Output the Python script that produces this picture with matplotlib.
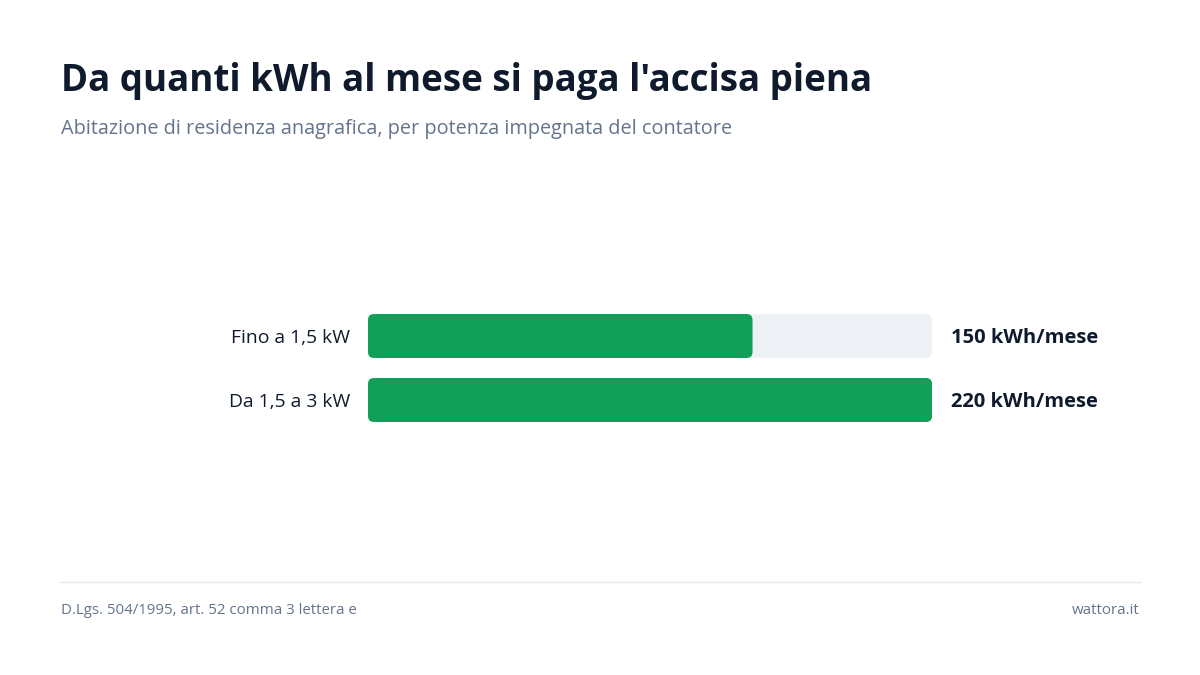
import matplotlib.pyplot as plt
from matplotlib.patches import FancyBboxPatch

# dati
categorie = ['Fino a 1,5 kW', 'Da 1,5 a 3 kW']
soglie = [150, 220]
etichette = ['150 kWh/mese', '220 kWh/mese']
massimo = 220

titolo = "Da quanti kWh al mese si paga l'accisa piena"
sottotitolo = 'Abitazione di residenza anagrafica, per potenza impegnata del contatore'
fonte = 'D.Lgs. 504/1995, art. 52 comma 3 lettera e'
sito = 'wattora.it'

VERDE = '#129f5a'
TRACCIA = '#edf0f5'
SCURO = '#0f1b2d'
GRIGIO = '#64748b'

plt.rcParams['font.family'] = ['Open Sans', 'DejaVu Sans']

W, H = 1200, 675
fig = plt.figure(figsize=(12, 6.75), dpi=100)
fig.patch.set_facecolor('white')

# titolo e sottotitolo
fig.text(61 / W, 1 - 81 / H, titolo, fontsize=26.5, fontweight='bold', color=SCURO, va='center', ha='left')
fig.text(61 / W, 1 - 129 / H, sottotitolo, fontsize=14.3, color=GRIGIO, va='center', ha='left')

# area barre
ax = fig.add_axes([368 / W, 239 / H, 564 / W, 136 / H])
ax.set_xlim(0, massimo)
ax.set_ylim(0.5 + 1.0625, 0.5 - 1.0625)
ax.axis('off')

px_x = 564 / massimo   # pixel per unita x
px_y = 64.0            # pixel per unita y
raggio = 6

def arrotonda(bar, colore):
    x, y, w, h = bar.get_x(), bar.get_y(), bar.get_width(), bar.get_height()
    bar.remove()
    p = FancyBboxPatch((x, y), w, h,
                       boxstyle='round,pad=0,rounding_size=%f' % (raggio / px_x),
                       mutation_aspect=(px_x / px_y),
                       facecolor=colore, edgecolor='none')
    ax.add_patch(p)

pos = list(range(len(categorie)))
tracce = ax.barh(pos, [massimo] * len(pos), height=44 / 64)
for b in tracce:
    arrotonda(b, TRACCIA)
barre = ax.barh(pos, soglie, height=44 / 64)
for b in barre:
    arrotonda(b, VERDE)

for i, (cat, lab) in enumerate(zip(categorie, etichette)):
    ax.text(-18 / px_x, i + 2 / px_y, cat, ha='right', va='center', fontsize=13.9, color=SCURO)
    ax.text(massimo + 19 / px_x, i + 2 / px_y, lab, ha='left', va='center', fontsize=14.5, fontweight='bold', color=SCURO)

# piè di pagina
fig.add_artist(plt.Line2D([60 / W, 1140 / W], [1 - 582 / H, 1 - 582 / H], color='#e5e7eb', linewidth=1))
fig.text(61 / W, 1 - 611 / H, fonte, fontsize=10.8, color=GRIGIO, va='center', ha='left')
fig.text(1140 / W, 1 - 611 / H, sito, fontsize=10.8, color=GRIGIO, va='center', ha='right')

fig.savefig('out.png', dpi=100, facecolor='white')
